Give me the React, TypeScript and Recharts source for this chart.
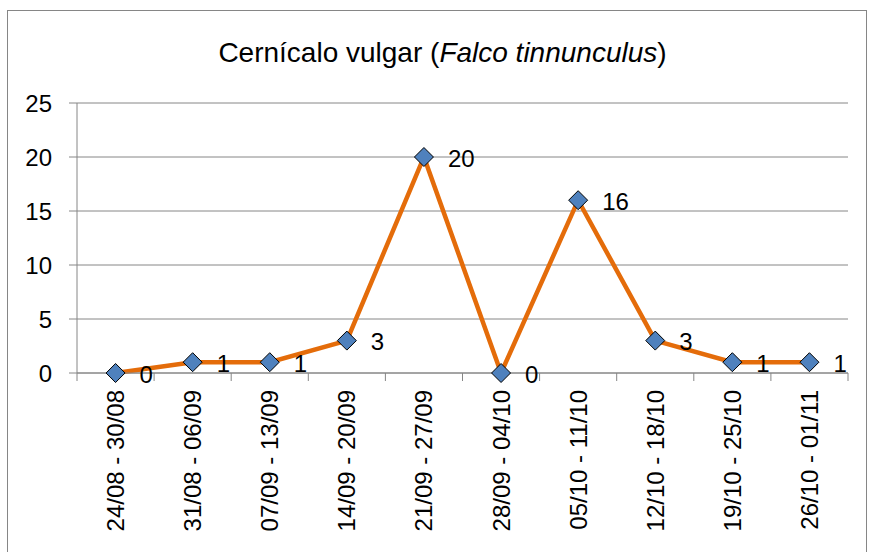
import React from 'react';
import {
  LineChart,
  Line,
  XAxis,
  YAxis,
  CartesianGrid,
  LabelList,
} from 'recharts';

const categories = [
  '24/08 - 30/08',
  '31/08 - 06/09',
  '07/09 - 13/09',
  '14/09 - 20/09',
  '21/09 - 27/09',
  '28/09 - 04/10',
  '05/10 - 11/10',
  '12/10 - 18/10',
  '19/10 - 25/10',
  '26/10 - 01/11',
];
const counts = [0, 1, 1, 3, 20, 0, 16, 3, 1, 1];
const yTicks = [0, 5, 10, 15, 20, 25];

const chartData = categories.map((week, i) => ({ week, count: counts[i] }));

const W = 869;
const H = 552;
const MARGIN = { top: 103, right: 21, left: 0, bottom: 0 };
const Y_AXIS_W = 77;
const PLOT_W = W - MARGIN.right - Y_AXIS_W;
const BAND = PLOT_W / categories.length;
const AXIS_Y = 373;
const GRID = '#868686';
const FONT = '"Liberation Sans", Arial, sans-serif';

// category ticks sit between the weeks, like the original
const XTick = (props: any) => {
  const { x, index, payload } = props;
  return (
    <g>
      <line x1={x - BAND / 2} x2={x - BAND / 2} y1={AXIS_Y} y2={AXIS_Y + 8} stroke={GRID} />
      {index === categories.length - 1 && (
        <line x1={x + BAND / 2} x2={x + BAND / 2} y1={AXIS_Y} y2={AXIS_Y + 8} stroke={GRID} />
      )}
      <text
        transform={`translate(${x},${AXIS_Y + 17}) rotate(-90)`}
        textAnchor="end"
        dominantBaseline="central"
        fontSize={24}
        fontFamily={FONT}
        fill="#000"
      >
        {payload.value}
      </text>
    </g>
  );
};

const Diamond = (props: any) => {
  const { cx, cy } = props;
  if (cx == null || cy == null) return null;
  const r = 9.5;
  return (
    <polygon
      points={`${cx},${cy - r} ${cx + r},${cy} ${cx},${cy + r} ${cx - r},${cy}`}
      fill="#4F81BD"
      stroke="#000"
      strokeWidth={1}
    />
  );
};

const ValueLabel = (props: any) => {
  const { x, y, value } = props;
  return (
    <text
      x={x + 24}
      y={y + 1}
      dominantBaseline="central"
      fontSize={24}
      fontFamily={FONT}
      fill="#000"
    >
      {value}
    </text>
  );
};

export default function App() {
  return (
    <div
      style={{
        position: 'fixed',
        left: 0,
        top: 0,
        width: W,
        height: H,
        overflow: 'hidden',
        background: '#fff',
      }}
    >
      <div
        style={{
          position: 'absolute',
          left: 7,
          top: 10,
          width: 858,
          height: 600,
          border: `1px solid ${GRID}`,
        }}
      />
      <div
        style={{
          position: 'absolute',
          left: 0,
          top: 37,
          width: 885,
          textAlign: 'center',
          fontFamily: FONT,
          fontSize: 28,
          lineHeight: 'normal',
          color: '#000',
        }}
      >
        Cernícalo vulgar (<i>Falco tinnunculus</i>)
      </div>
      <div style={{ position: 'absolute', left: 0, top: 0 }}>
        <LineChart width={W} height={H} data={chartData} margin={MARGIN}>
          <CartesianGrid vertical={false} stroke={GRID} strokeWidth={1} />
          <XAxis
            dataKey="week"
            interval={0}
            padding={{ left: BAND / 2, right: BAND / 2 }}
            tickLine={false}
            axisLine={{ stroke: GRID }}
            tick={<XTick />}
            height={H - AXIS_Y - MARGIN.bottom}
          />
          <YAxis
            width={Y_AXIS_W}
            domain={[0, 25]}
            ticks={yTicks}
            interval={0}
            tickSize={8}
            tickMargin={17}
            tickLine={{ stroke: GRID }}
            axisLine={{ stroke: GRID }}
            tick={{ fontSize: 24, fontFamily: FONT, fill: '#000' }}
          />
          <Line
            type="linear"
            dataKey="count"
            stroke="#E46C0A"
            strokeWidth={4.5}
            dot={<Diamond />}
            activeDot={false}
            isAnimationActive={false}
          >
            <LabelList dataKey="count" content={<ValueLabel />} />
          </Line>
        </LineChart>
      </div>
    </div>
  );
}
